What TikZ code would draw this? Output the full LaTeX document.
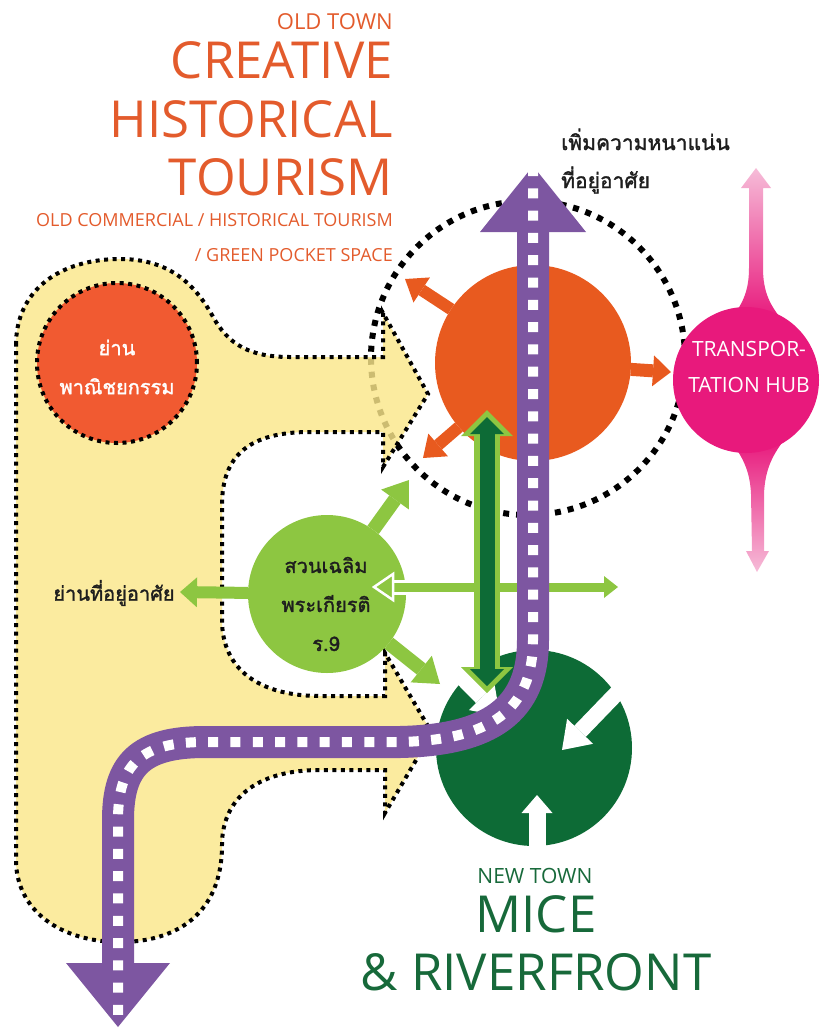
\documentclass[tikz,border=0pt]{standalone}
\usepackage{fontspec}
\setmainfont{Open Sans}
\newfontfamily\thai[Script=Thai,FakeBold=1.6]{Loma}
\usetikzlibrary{arrows.meta}
\definecolor{titleor}{HTML}{E35B2C}
\definecolor{redor}{HTML}{F15A31}
\definecolor{orA}{HTML}{E85A1F}
\definecolor{yellowA}{HTML}{FAE68A}
\definecolor{purpleA}{HTML}{7D56A1}
\definecolor{lgreen}{HTML}{8DC641}
\definecolor{dgreen}{HTML}{0D6B36}
\definecolor{pinkA}{HTML}{E8197C}
\definecolor{pinkL}{HTML}{F6BCD8}
\definecolor{txtgreen}{HTML}{17693A}
\definecolor{txtdark}{HTML}{1E1E1E}
\tikzset{
  fatarrow/.style n args={3}{line width=#1,-{Triangle[width=#2,length=#3,line width=0pt]}},
  dotborder/.style={draw=black,line width=4pt,dash pattern=on 4pt off 4.5pt},
  disc/.style={circle,inner sep=0pt,outer sep=0pt},
  titletxt/.style={anchor=base east,inner sep=0pt,text=titleor},
  newtxt/.style={anchor=base,inner sep=0pt,text=txtgreen},
}
\begin{document}
\begin{tikzpicture}[x=1pt,y=-1pt]
\useasboundingbox (0,0) rectangle (824,1029);

% large dotted zone
\node[disc, minimum size=314pt, draw=black, line width=6pt, dash pattern=on 6pt off 7pt] (zone) at (528,358) {};

% yellow old town shape
\draw[dotborder, fill=yellowA, fill opacity=0.82]
 (16,345) .. controls (16,290) and (60,259) .. (120,259)
 .. controls (170,259) and (195,285) .. (212,315)
 .. controls (228,345) and (250,357) .. (290,357)
 -- (383,357) -- (383,313) -- (428,394) -- (383,467) -- (383,432)
 -- (310,432) .. controls (250,432) and (222,455) .. (222,505)
 -- (222,620) .. controls (222,670) and (260,696) .. (320,696)
 -- (385,696) -- (385,653) -- (432,733) -- (385,813) -- (385,770)
 -- (320,770) .. controls (255,770) and (222,800) .. (222,845)
 .. controls (222,915) and (175,942) .. (120,942)
 .. controls (60,942) and (16,910) .. (16,860) -- cycle;

% commercial district
\node[disc, minimum size=160pt, fill=redor, dotborder] (commerce) at (117,363) {};
\node[font=\thai\fontsize{20}{39}\selectfont, text=white, align=center] (commercetxt) at (117,367) {ย่าน\\พาณิชยกรรม};

% orange core
\coordinate (orNW) at (405,279);
\coordinate (orE) at (671,372);
\coordinate (orSW) at (423,458);
\node[disc, minimum size=196pt, fill=orA] (core) at (533,363) {};
\draw[orA, fatarrow={12pt}{30pt}{20pt}] (core) -- (orNW);
\draw[orA, fatarrow={13pt}{31pt}{18pt}] (core) -- (orE);
\draw[orA, fatarrow={12pt}{30pt}{20pt}] (core) -- (orSW);

% transportation hub
\shade[top color=pinkL, middle color=pinkA, bottom color=pinkA]
 (756,168) -- (771,188) -- (763,188) -- (763,268) .. controls (763,292) and (770,305) .. (782,320)
 -- (730,320) .. controls (742,305) and (749,292) .. (749,268) -- (749,188) -- (741,188) -- cycle;
\shade[top color=pinkA, middle color=pinkA, bottom color=pinkL]
 (730,440) .. controls (742,456) and (750,470) .. (751,494) -- (752,551) -- (746,551) -- (757,572)
 -- (769,551) -- (764,551) -- (764,494) .. controls (765,470) and (772,456) .. (784,440) -- cycle;
\node[disc, minimum size=146pt, fill=pinkA] (hub) at (746,380) {};
\node[text=white, font=\fontsize{21}{36}\selectfont, align=center] (hubtxt) at (749,367) {TRANSPOR-\\TATION HUB};

% new town circle
\node[disc, minimum size=196pt, fill=dgreen] (mice) at (534,748) {};
\coordinate (wAs) at (645,664);
\coordinate (wAt) at (562,750);
\coordinate (wBs) at (537,856);
\coordinate (wBt) at (537,795);
\coordinate (wCs) at (440,655);
\coordinate (wCt) at (500,716);
\draw[white, fatarrow={16pt}{36pt}{26pt}] (wAs) -- (wAt);
\draw[white, fatarrow={17pt}{31pt}{18pt}] (wBs) -- (wBt);
\draw[white, fatarrow={16pt}{36pt}{26pt}] (wCs) -- (wCt);

% park
\coordinate (gNE) at (409,480);
\coordinate (gW) at (180,592);
\coordinate (gSE) at (440,684);
\node[disc, minimum size=158pt, fill=lgreen] (park) at (327,594) {};
\draw[lgreen, fatarrow={14pt}{34pt}{24pt}] (park) -- (gNE);
\draw[lgreen, fatarrow={12pt}{30pt}{17pt}] (park) -- (gW);
\draw[lgreen, fatarrow={14pt}{34pt}{24pt}] (park) -- (gSE);
\node[font=\thai\fontsize{20}{39}\selectfont, text=txtdark, align=center] (parktxt) at (326,604) {สวนเฉลิม\\พระเกียรติ\\ร.9};

% horizontal link arrow
\coordinate (hL) at (374,587);
\coordinate (hR) at (618,587);
\draw[white, line width=15pt] (hL) ++(10,0) -- (600,587);
\draw[lgreen, line width=9pt] (390,587) -- (606,587);
\filldraw[fill=lgreen, draw=white, line width=2.5pt, line join=miter] (hL) -- (393,574) -- (393,600) -- cycle;
\fill[lgreen] (hR) -- (604,576) -- (604,598) -- cycle;

% double arrow
\coordinate (dT) at (487,410);
\coordinate (dB) at (487,693);
\coordinate (dT2) at (487,417);
\coordinate (dB2) at (487,686);
\draw[lgreen, line width=26pt, {Triangle[width=52pt,length=26pt,line width=0pt]}-{Triangle[width=52pt,length=26pt,line width=0pt]}] (dT) -- (dB);
\draw[dgreen, line width=15pt, {Triangle[width=34pt,length=17pt,line width=0pt]}-{Triangle[width=34pt,length=17pt,line width=0pt]}] (dT2) -- (dB2);

% road
\coordinate (rTop) at (533,166);
\coordinate (rBot) at (118,1027);
\draw[purpleA, line width=32pt, {Triangle[width=106pt,length=66pt,line width=0pt]}-{Triangle[width=104pt,length=64pt,line width=0pt]}]
 (rTop) -- (533,640) .. controls (533,710) and (490,740) .. (400,742) -- (205,742)
 .. controls (140,742) and (118,765) .. (118,820) -- (rBot);
\draw[white, line width=10pt, dash pattern=on 10pt off 12.3pt]
 (rTop) -- (533,640) .. controls (533,710) and (490,740) .. (400,742) -- (205,742)
 .. controls (140,742) and (118,765) .. (118,820) -- (rBot);

% labels
\node[font=\thai\fontsize{20}{24}\selectfont, text=txtdark] (homelabel) at (114,593) {ย่านที่อยู่อาศัย};
\node[anchor=west, align=left, inner sep=0pt, font=\thai\fontsize{21}{38}\selectfont, text=txtdark] (densitytxt) at (561,161) {เพิ่มความหนาแน่น\\ที่อยู่อาศัย};

\node[titletxt, font=\fontsize{22}{22}\selectfont] (t1) at (393,29) {OLD TOWN};
\node[titletxt, font=\fontsize{51}{51}\selectfont] (t2) at (393,78) {CREATIVE};
\node[titletxt, font=\fontsize{51}{51}\selectfont] (t3) at (393,137) {HISTORICAL};
\node[titletxt, font=\fontsize{51}{51}\selectfont] (t4) at (393,195) {TOURISM};
\node[titletxt, font=\fontsize{18}{18}\selectfont] (t5) at (393,226) {OLD COMMERCIAL / HISTORICAL TOURISM};
\node[titletxt, font=\fontsize{18}{18}\selectfont] (t6) at (393,261) {/ GREEN POCKET SPACE};

\node[newtxt, font=\fontsize{21}{21}\selectfont] (b1) at (535,883) {NEW TOWN};
\node[newtxt, font=\fontsize{51}{51}\selectfont] (b2) at (536,932) {MICE};
\node[newtxt, font=\fontsize{51}{51}\selectfont] (b3) at (536,990) {\& RIVERFRONT};
\end{tikzpicture}
\end{document}
